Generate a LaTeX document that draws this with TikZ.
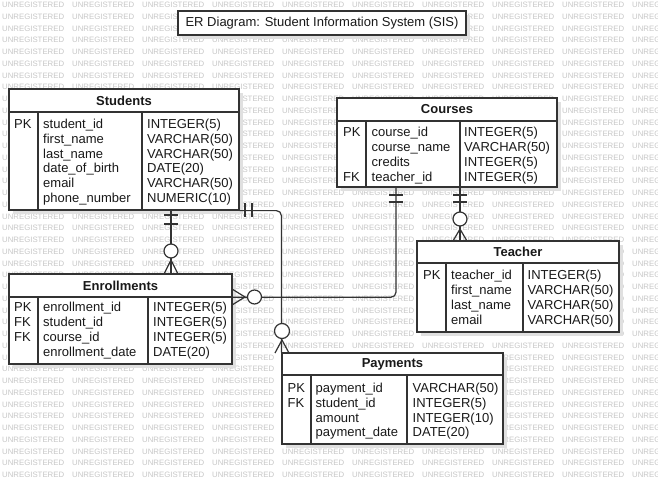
\documentclass[tikz,border=0pt]{standalone}
\usepackage{fontspec}
\setmainfont{Liberation Sans}
\usetikzlibrary{fit,calc}
\newcommand{\erentity}[9]{%
  \fill[black!12] ({#2+4},{#3+4}) rectangle ({#4+4},{#5+4});
  \node[fit={(#2,#3) (#4,#5)}, inner sep=0pt, draw=black!80, line width=1.2pt, fill=white] (#1) {};
  \node[fit={(#2,#3) (#4,#6)}, inner sep=0pt] (#1-h) {};
  \node[hdr] (#1-title) at (#1-h.center) {#9};
  \draw[lc] (#2,#6) -- (#4,#6);
  \draw[lc] (#7,#6) -- (#7,#5);
  \draw[lc] (#8,#6) -- (#8,#5);
}
\newcommand{\errow}[8]{%
  \node[cell] (#1-k) at (#2,#5) {#6};
  \node[cell] (#1-n) at (#3,#5) {#7};
  \node[cell] (#1-t) at (#4,#5) {#8};
}
\newcommand{\errowx}[6]{%
  \node[cell] (#1-n) at (#2,#4) {#5};
  \node[cell] (#1-t) at (#3,#4) {#6};
}
\begin{document}
\begin{tikzpicture}[x=1pt,y=-1pt,
  lc/.style={draw=black!80, line width=1.2pt},
  conn/.style={draw=black!80, line width=1.2pt},
  cell/.style={anchor=base west, inner sep=0pt, font=\fontsize{13}{15}\selectfont, text=black!90},
  hdr/.style={inner sep=0pt, font=\fontsize{13}{15}\selectfont\bfseries, text=black!90},
  wm/.style={anchor=west, inner sep=0pt, font=\fontsize{7.8}{9}\selectfont, text=black!22},
  ring/.style={draw=black!80, line width=1.2pt, fill=white},
  declare function={inb(\x,\y,\l,\t,\rr,\b)=and(and(\x>=\l,\x+62<=\rr),and(\y-3>=\t,\y+3<=\b));},
]
\useasboundingbox (0,0) rectangle (658,485);
\fill[white] (0,0) rectangle (658,485);
% watermark (copies hidden entirely under boxes are left out)
\begin{scope}
\clip (0,0) rectangle (658,485);
\foreach \r in {0,...,40}{\foreach \c in {0,...,9}{%
  \pgfmathsetmacro{\wx}{2+70*\c}%
  \pgfmathsetmacro{\wy}{5+11.75*\r}%
  \pgfmathtruncatemacro{\hid}{inb(\wx,\wy,178,11,466,35)+inb(\wx,\wy,9,89,239,210)+inb(\wx,\wy,337,98,557,187)+inb(\wx,\wy,417,241,619,332)+inb(\wx,\wy,9,274,232,364)+inb(\wx,\wy,282,353,503,444)}%
  \ifnum\hid=0
    \node[wm] (wm-\r-\c) at (\wx,\wy) {UNREGISTERED};
  \fi}}
\end{scope}

% title
\fill[black!12] (182,15) rectangle (470,39);
\node[fit={(178,11) (466,35)}, inner sep=0pt, draw=black!80, line width=1.2pt, fill=white] (titlebox) {};
\node[inner sep=0pt, font=\fontsize{13}{15}\selectfont, text=black!90] (title) at (titlebox.center) {ER Diagram: Student Information System (SIS)};

% Students
\erentity{students}{9}{89}{239}{210}{112}{38}{142}{Students}
\errow{s1}{14}{43}{147}{128.5}{PK}{student\_id}{INTEGER(5)}
\errowx{s2}{43}{147}{143.3}{first\_name}{VARCHAR(50)}
\errowx{s3}{43}{147}{158.1}{last\_name}{VARCHAR(50)}
\errowx{s4}{43}{147}{172.9}{date\_of\_birth}{DATE(20)}
\errowx{s5}{43}{147}{187.7}{email}{VARCHAR(50)}
\errowx{s6}{43}{147}{202.5}{phone\_number}{NUMERIC(10)}

% Courses
\erentity{courses}{337}{98}{557}{187}{121}{366}{460}{Courses}
\errow{c1}{343}{371.5}{464}{136}{PK}{course\_id}{INTEGER(5)}
\errowx{c2}{371.5}{464}{151}{course\_name}{VARCHAR(50)}
\errowx{c3}{371.5}{464}{166}{credits}{INTEGER(5)}
\errow{c4}{343}{371.5}{464}{181}{FK}{teacher\_id}{INTEGER(5)}

% Teacher
\erentity{teacher}{417}{241}{619}{332}{263}{446}{523}{Teacher}
\errow{t1}{423}{451}{527.5}{279.5}{PK}{teacher\_id}{INTEGER(5)}
\errowx{t2}{451}{527.5}{294.5}{first\_name}{VARCHAR(50)}
\errowx{t3}{451}{527.5}{309.5}{last\_name}{VARCHAR(50)}
\errowx{t4}{451}{527.5}{324.5}{email}{VARCHAR(50)}

% Enrollments
\erentity{enroll}{9}{274}{232}{364}{297}{38}{148}{Enrollments}
\errow{e1}{14}{43}{153}{311.5}{PK}{enrollment\_id}{INTEGER(5)}
\errow{e2}{14}{43}{153}{326.5}{FK}{student\_id}{INTEGER(5)}
\errow{e3}{14}{43}{153}{341.5}{FK}{course\_id}{INTEGER(5)}
\errowx{e4}{43}{153}{356.5}{enrollment\_date}{DATE(20)}

% Payments
\erentity{payments}{282}{353}{503}{444}{375}{311}{407}{Payments}
\errow{p1}{287.5}{315.5}{412.5}{392.5}{PK}{payment\_id}{VARCHAR(50)}
\errow{p2}{287.5}{315.5}{412.5}{407.3}{FK}{student\_id}{INTEGER(5)}
\errowx{p3}{315.5}{412.5}{422.1}{amount}{INTEGER(10)}
\errowx{p4}{315.5}{412.5}{436.9}{payment\_date}{DATE(20)}

% connectors
\coordinate (x1) at (171,0);
\coordinate (x3) at (396,0);
\coordinate (x4) at (460,0);
% Students -- Enrollments
\draw[conn] (x1 |- students.south) -- (x1 |- enroll.north);
\draw[conn] (164,215) -- (178,215);
\draw[conn] (164,224) -- (178,224);
\draw[conn] (164,274) -- (171,260) -- (178,274);
\draw[ring] (171,251) circle (7pt);
% Students -- Payments
\draw[conn, rounded corners=5pt] (students.south east) -| (payments.north west);
\draw[conn] (245,203) -- (245,217);
\draw[conn] (252,203) -- (252,217);
\draw[conn] (275,353) -- (282,340) -- (289,353);
\draw[ring] (282,331) circle (7.5pt);
% Enrollments -- Courses
\draw[conn, rounded corners=5pt] (enroll-h.south east) -| (x3 |- courses.south);
\draw[conn] (389,195) -- (403,195);
\draw[conn] (389,202) -- (403,202);
\draw[conn] (232,289) -- (245,297) -- (232,305);
\draw[ring] (254.5,297) circle (7pt);
% Courses -- Teacher
\draw[conn] (x4 |- courses.south) -- (x4 |- teacher.north);
\draw[conn] (453,195) -- (467,195);
\draw[conn] (453,202) -- (467,202);
\draw[conn] (453,241) -- (460,229) -- (467,241);
\draw[ring] (460,219) circle (7pt);
\end{tikzpicture}
\end{document}
